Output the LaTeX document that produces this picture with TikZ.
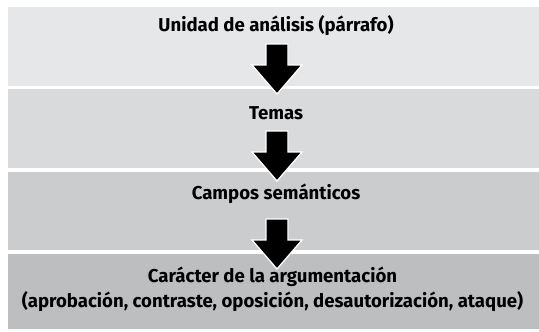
\documentclass[tikz,border=0pt]{standalone}
\usepackage{fontspec}
\setmainfont{Fira Sans}
\begin{document}
\begin{tikzpicture}[x=1pt,y=-1pt,
  band/.style={fill=#1, draw=none, anchor=north west, inner sep=0pt, minimum width=533pt},
  label/.style={font=\bfseries\fontsize{18.6}{24.5}\selectfont, inner sep=0pt, align=center},
  downarrow/.pic={\draw[fill=black, draw=white, line width=1.3pt, line join=miter]
      (-11,0) -- (11,0) -- (11,21) -- (25,21) -- (0,50) -- (-25,21) -- (-11,21) -- cycle;}
]
\useasboundingbox[fill=white] (0,0) rectangle (539,332);
\definecolor{g1}{HTML}{E6E7E8}
\definecolor{g2}{HTML}{D9DADB}
\definecolor{g3}{HTML}{CBCCCD}
\definecolor{g4}{HTML}{BDBEC0}
\node[band=g1, minimum height=79pt] (b1) at (8,7) {};
\node[band=g2, minimum height=79pt] (b2) at (8,89) {};
\node[band=g3, minimum height=78.5pt] (b3) at (8,171.5) {};
\node[band=g4, minimum height=75pt] (b4) at (8,254) {};
\node[label] (t1) at (276,26) {Unidad de análisis (párrafo)};
\node[label] (t2) at (276,113) {Temas};
\node[label] (t3) at (276,194) {Campos semánticos};
\node[label] (t4) at (272.5,289.5) {Carácter de la argumentación\\(aprobación, contraste, oposición, desautorización, ataque)};
\coordinate (a1) at (277,44);
\coordinate (a2) at (277,131);
\coordinate (a3) at (277,219);
\pic at (a1) {downarrow};
\pic at (a2) {downarrow};
\pic at (a3) {downarrow};
\end{tikzpicture}
\end{document}
